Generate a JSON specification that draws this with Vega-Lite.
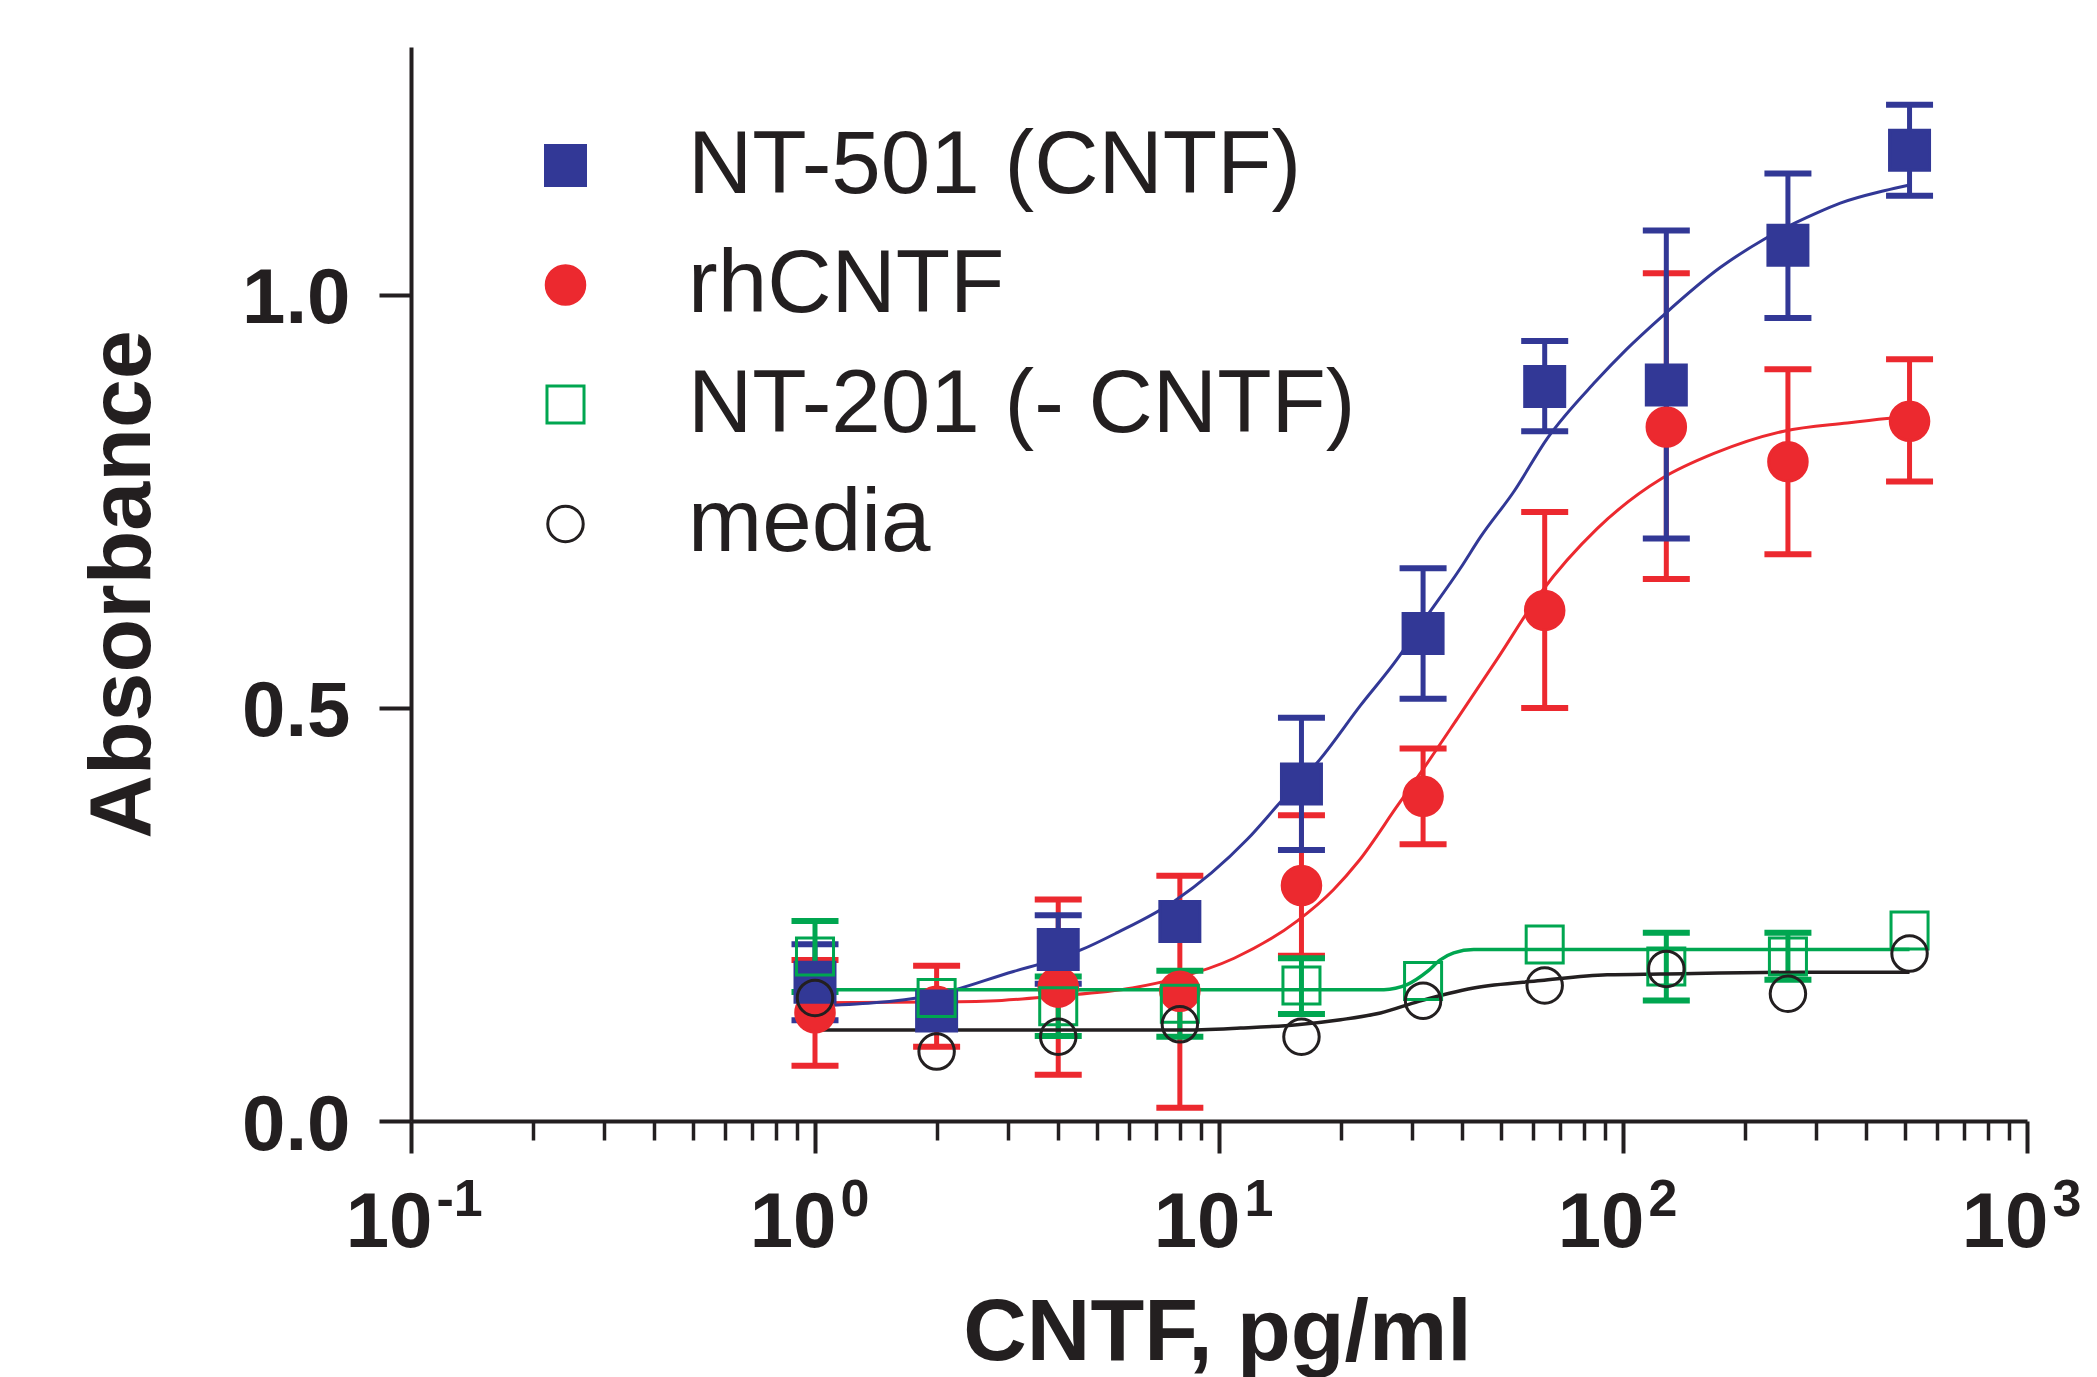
{
  "$schema": "https://vega.github.io/schema/vega-lite/v6.json",
  "width": 1616,
  "height": 1074,
  "autosize": {"type": "none"},
  "padding": {"left": 411, "top": 47, "right": 70, "bottom": 256},
  "background": "white",
  "datasets": {
    "pts": [
      {"series": "rhCNTF", "x": 1, "y": 0.131, "lo": 0.067, "hi": 0.195},
      {"series": "rhCNTF", "x": 2, "y": 0.139, "lo": 0.090, "hi": 0.188},
      {"series": "rhCNTF", "x": 4, "y": 0.162, "lo": 0.056, "hi": 0.268},
      {"series": "rhCNTF", "x": 8, "y": 0.157, "lo": 0.016, "hi": 0.297},
      {"series": "rhCNTF", "x": 16, "y": 0.285, "lo": 0.200, "hi": 0.370},
      {"series": "rhCNTF", "x": 32, "y": 0.393, "lo": 0.335, "hi": 0.451},
      {"series": "rhCNTF", "x": 64, "y": 0.618, "lo": 0.500, "hi": 0.737},
      {"series": "rhCNTF", "x": 128, "y": 0.840, "lo": 0.656, "hi": 1.026},
      {"series": "rhCNTF", "x": 256, "y": 0.798, "lo": 0.686, "hi": 0.910},
      {"series": "rhCNTF", "x": 512, "y": 0.847, "lo": 0.774, "hi": 0.922},
      {"series": "NT-501 (CNTF)", "x": 1, "y": 0.168, "lo": 0.122, "hi": 0.214},
      {"series": "NT-501 (CNTF)", "x": 2, "y": 0.133, "lo": null, "hi": null},
      {"series": "NT-501 (CNTF)", "x": 4, "y": 0.2075, "lo": 0.166, "hi": 0.249},
      {"series": "NT-501 (CNTF)", "x": 8, "y": 0.2415, "lo": null, "hi": null},
      {"series": "NT-501 (CNTF)", "x": 16, "y": 0.408, "lo": 0.328, "hi": 0.488},
      {"series": "NT-501 (CNTF)", "x": 32, "y": 0.590, "lo": 0.511, "hi": 0.669},
      {"series": "NT-501 (CNTF)", "x": 64, "y": 0.889, "lo": 0.835, "hi": 0.944},
      {"series": "NT-501 (CNTF)", "x": 128, "y": 0.891, "lo": 0.705, "hi": 1.078},
      {"series": "NT-501 (CNTF)", "x": 256, "y": 1.060, "lo": 0.972, "hi": 1.147},
      {"series": "NT-501 (CNTF)", "x": 512, "y": 1.175, "lo": 1.120, "hi": 1.230},
      {"series": "NT-201 (- CNTF)", "x": 1, "y": 0.199, "lo": 0.156, "hi": 0.242},
      {"series": "NT-201 (- CNTF)", "x": 2, "y": 0.149, "lo": null, "hi": null},
      {"series": "NT-201 (- CNTF)", "x": 4, "y": 0.139, "lo": 0.103, "hi": 0.175},
      {"series": "NT-201 (- CNTF)", "x": 8, "y": 0.142, "lo": 0.102, "hi": 0.182},
      {"series": "NT-201 (- CNTF)", "x": 16, "y": 0.164, "lo": 0.1295, "hi": 0.197},
      {"series": "NT-201 (- CNTF)", "x": 32, "y": 0.1695, "lo": null, "hi": null},
      {"series": "NT-201 (- CNTF)", "x": 64, "y": 0.2136, "lo": null, "hi": null},
      {"series": "NT-201 (- CNTF)", "x": 128, "y": 0.187, "lo": 0.146, "hi": 0.228},
      {"series": "NT-201 (- CNTF)", "x": 256, "y": 0.199, "lo": 0.171, "hi": 0.228},
      {"series": "NT-201 (- CNTF)", "x": 512, "y": 0.2306, "lo": null, "hi": null},
      {"series": "media", "x": 1, "y": 0.149, "lo": null, "hi": null},
      {"series": "media", "x": 2, "y": 0.084, "lo": null, "hi": null},
      {"series": "media", "x": 4, "y": 0.102, "lo": null, "hi": null},
      {"series": "media", "x": 8, "y": 0.117, "lo": null, "hi": null},
      {"series": "media", "x": 16, "y": 0.102, "lo": null, "hi": null},
      {"series": "media", "x": 32, "y": 0.1456, "lo": null, "hi": null},
      {"series": "media", "x": 64, "y": 0.164, "lo": null, "hi": null},
      {"series": "media", "x": 128, "y": 0.184, "lo": null, "hi": null},
      {"series": "media", "x": 256, "y": 0.154, "lo": null, "hi": null},
      {"series": "media", "x": 512, "y": 0.2027, "lo": null, "hi": null}
    ],
    "curves": [
      {"series": "NT-501 (CNTF)", "x": 1, "y": 0.139},
      {"series": "NT-501 (CNTF)", "x": 1.95, "y": 0.152},
      {"series": "NT-501 (CNTF)", "x": 3.1, "y": 0.181},
      {"series": "NT-501 (CNTF)", "x": 3.9, "y": 0.195},
      {"series": "NT-501 (CNTF)", "x": 4.55, "y": 0.207},
      {"series": "NT-501 (CNTF)", "x": 5.6, "y": 0.228},
      {"series": "NT-501 (CNTF)", "x": 7.75, "y": 0.266},
      {"series": "NT-501 (CNTF)", "x": 11.75, "y": 0.341},
      {"series": "NT-501 (CNTF)", "x": 14.2, "y": 0.386},
      {"series": "NT-501 (CNTF)", "x": 17.8, "y": 0.438},
      {"series": "NT-501 (CNTF)", "x": 22.4, "y": 0.503},
      {"series": "NT-501 (CNTF)", "x": 27.6, "y": 0.559},
      {"series": "NT-501 (CNTF)", "x": 31.5, "y": 0.600},
      {"series": "NT-501 (CNTF)", "x": 39.7, "y": 0.670},
      {"series": "NT-501 (CNTF)", "x": 44.4, "y": 0.707},
      {"series": "NT-501 (CNTF)", "x": 53.7, "y": 0.762},
      {"series": "NT-501 (CNTF)", "x": 64.9, "y": 0.826},
      {"series": "NT-501 (CNTF)", "x": 85.5, "y": 0.895},
      {"series": "NT-501 (CNTF)", "x": 102, "y": 0.934},
      {"series": "NT-501 (CNTF)", "x": 125, "y": 0.974},
      {"series": "NT-501 (CNTF)", "x": 174, "y": 1.033},
      {"series": "NT-501 (CNTF)", "x": 223, "y": 1.067},
      {"series": "NT-501 (CNTF)", "x": 303, "y": 1.0995},
      {"series": "NT-501 (CNTF)", "x": 345, "y": 1.111},
      {"series": "NT-501 (CNTF)", "x": 443, "y": 1.126},
      {"series": "NT-501 (CNTF)", "x": 512, "y": 1.133},
      {"series": "rhCNTF", "x": 1, "y": 0.143},
      {"series": "rhCNTF", "x": 1.95, "y": 0.144},
      {"series": "rhCNTF", "x": 2.9, "y": 0.146},
      {"series": "rhCNTF", "x": 3.9, "y": 0.151},
      {"series": "rhCNTF", "x": 6.1, "y": 0.161},
      {"series": "rhCNTF", "x": 7.75, "y": 0.172},
      {"series": "rhCNTF", "x": 10.9, "y": 0.197},
      {"series": "rhCNTF", "x": 15.6, "y": 0.242},
      {"series": "rhCNTF", "x": 19.2, "y": 0.280},
      {"series": "rhCNTF", "x": 22.2, "y": 0.315},
      {"series": "rhCNTF", "x": 27.6, "y": 0.381},
      {"series": "rhCNTF", "x": 31.2, "y": 0.418},
      {"series": "rhCNTF", "x": 38.9, "y": 0.487},
      {"series": "rhCNTF", "x": 48.8, "y": 0.559},
      {"series": "rhCNTF", "x": 62.7, "y": 0.640},
      {"series": "rhCNTF", "x": 86.3, "y": 0.717},
      {"series": "rhCNTF", "x": 125, "y": 0.778},
      {"series": "rhCNTF", "x": 168, "y": 0.808},
      {"series": "rhCNTF", "x": 250, "y": 0.835},
      {"series": "rhCNTF", "x": 359, "y": 0.845},
      {"series": "rhCNTF", "x": 468, "y": 0.851},
      {"series": "rhCNTF", "x": 512, "y": 0.852},
      {"series": "NT-201 (- CNTF)", "x": 1, "y": 0.159},
      {"series": "NT-201 (- CNTF)", "x": 10, "y": 0.159},
      {"series": "NT-201 (- CNTF)", "x": 25.6, "y": 0.159},
      {"series": "NT-201 (- CNTF)", "x": 29.2, "y": 0.165},
      {"series": "NT-201 (- CNTF)", "x": 32.8, "y": 0.181},
      {"series": "NT-201 (- CNTF)", "x": 35.3, "y": 0.195},
      {"series": "NT-201 (- CNTF)", "x": 38.1, "y": 0.2035},
      {"series": "NT-201 (- CNTF)", "x": 42.7, "y": 0.2075},
      {"series": "NT-201 (- CNTF)", "x": 100, "y": 0.2075},
      {"series": "NT-201 (- CNTF)", "x": 512, "y": 0.2075},
      {"series": "media", "x": 1, "y": 0.110},
      {"series": "media", "x": 8, "y": 0.110},
      {"series": "media", "x": 11.3, "y": 0.1125},
      {"series": "media", "x": 15.6, "y": 0.1165},
      {"series": "media", "x": 20, "y": 0.1226},
      {"series": "media", "x": 25.1, "y": 0.1307},
      {"series": "media", "x": 31.2, "y": 0.1448},
      {"series": "media", "x": 42.7, "y": 0.161},
      {"series": "media", "x": 62.7, "y": 0.170},
      {"series": "media", "x": 91.4, "y": 0.177},
      {"series": "media", "x": 124, "y": 0.178},
      {"series": "media", "x": 275, "y": 0.180},
      {"series": "media", "x": 512, "y": 0.180}
    ]
  },
  "layer": [
    {
      "layer": [
        {
          "data": {"name": "pts"},
          "transform": [{"filter": "datum.series == 'rhCNTF' && isValid(datum.lo)"}],
          "layer": [
            {"mark": {"type": "rule", "strokeWidth": 5, "color": "#EC292F"},
             "encoding": {
               "x": {"field": "x", "type": "quantitative", "scale": {"type": "log", "domain": [0.1, 1000]},
                 "axis": {"orient": "bottom", "values": [0.1, 1, 10, 100, 1000], "tickSize": 32, "tickWidth": 4, "domainWidth": 4,
                   "labelExpr": "'10'", "labelFont": "Liberation Sans", "labelFontWeight": "bold", "labelFontSize": 78,
                   "labelAlign": "right", "labelOffset": 21, "labelBaseline": "top", "labelPadding": 31,
                   "labelFlush": false, "labelOverlap": false, "labelBound": false, "grid": false,
                   "title": "CNTF, pg/ml", "titleFont": "Liberation Sans", "titleFontWeight": "bold", "titleFontSize": 88,
                   "titleX": 806, "titleY": 238, "titleBaseline": "alphabetic", "titleAlign": "center", "titleAnchor": null}},
               "y": {"field": "lo", "type": "quantitative", "scale": {"domain": [0, 1.3], "nice": false, "zero": false},
                 "axis": {"values": [0, 0.5, 1], "format": ".1f", "tickSize": 32, "tickWidth": 4, "domainWidth": 4,
                   "labelFont": "Liberation Sans", "labelFontWeight": "bold", "labelFontSize": 78, "labelPadding": 29, "labelOffset": 5,
                   "labelFlush": false, "labelOverlap": false, "grid": false,
                   "title": "Absorbance", "titleFont": "Liberation Sans", "titleFontWeight": "bold", "titleFontSize": 88,
                   "titleX": -262, "titleY": 537, "titleAngle": -90, "titleBaseline": "alphabetic", "titleAlign": "center", "titleAnchor": null}},
               "y2": {"field": "hi"}}},
            {"mark": {"type": "tick", "orient": "horizontal", "size": 47, "thickness": 6, "color": "#EC292F", "opacity": 1},
             "encoding": {"x": {"field": "x", "type": "quantitative", "scale": {"type": "log"}}, "y": {"field": "lo", "type": "quantitative"}}},
            {"mark": {"type": "tick", "orient": "horizontal", "size": 47, "thickness": 6, "color": "#EC292F", "opacity": 1},
             "encoding": {"x": {"field": "x", "type": "quantitative", "scale": {"type": "log"}}, "y": {"field": "hi", "type": "quantitative"}}}
          ]
        },
        {
          "data": {"name": "curves"},
          "transform": [{"filter": "datum.series == 'rhCNTF'"}],
          "mark": {"type": "line", "interpolate": "monotone", "strokeWidth": 3, "color": "#EC292F"},
          "encoding": {"x": {"field": "x", "type": "quantitative", "scale": {"type": "log"}}, "y": {"field": "y", "type": "quantitative"}}
        },
        {
          "data": {"name": "pts"},
          "transform": [{"filter": "datum.series == 'NT-501 (CNTF)' && isValid(datum.lo)"}],
          "layer": [
            {"mark": {"type": "rule", "strokeWidth": 5, "color": "#323896"},
             "encoding": {"x": {"field": "x", "type": "quantitative", "scale": {"type": "log"}}, "y": {"field": "lo", "type": "quantitative"}, "y2": {"field": "hi"}}},
            {"mark": {"type": "tick", "orient": "horizontal", "size": 47, "thickness": 6, "color": "#323896", "opacity": 1},
             "encoding": {"x": {"field": "x", "type": "quantitative", "scale": {"type": "log"}}, "y": {"field": "lo", "type": "quantitative"}}},
            {"mark": {"type": "tick", "orient": "horizontal", "size": 47, "thickness": 6, "color": "#323896", "opacity": 1},
             "encoding": {"x": {"field": "x", "type": "quantitative", "scale": {"type": "log"}}, "y": {"field": "hi", "type": "quantitative"}}}
          ]
        },
        {
          "data": {"name": "curves"},
          "transform": [{"filter": "datum.series == 'NT-501 (CNTF)'"}],
          "mark": {"type": "line", "interpolate": "monotone", "strokeWidth": 3, "color": "#323896"},
          "encoding": {"x": {"field": "x", "type": "quantitative", "scale": {"type": "log"}}, "y": {"field": "y", "type": "quantitative"}}
        },
        {
          "data": {"name": "pts"},
          "transform": [{"filter": "datum.series == 'NT-201 (- CNTF)' && isValid(datum.lo)"}],
          "layer": [
            {"mark": {"type": "rule", "strokeWidth": 5, "color": "#00A650"},
             "encoding": {"x": {"field": "x", "type": "quantitative", "scale": {"type": "log"}}, "y": {"field": "lo", "type": "quantitative"}, "y2": {"field": "hi"}}},
            {"mark": {"type": "tick", "orient": "horizontal", "size": 47, "thickness": 6, "color": "#00A650", "opacity": 1},
             "encoding": {"x": {"field": "x", "type": "quantitative", "scale": {"type": "log"}}, "y": {"field": "lo", "type": "quantitative"}}},
            {"mark": {"type": "tick", "orient": "horizontal", "size": 47, "thickness": 6, "color": "#00A650", "opacity": 1},
             "encoding": {"x": {"field": "x", "type": "quantitative", "scale": {"type": "log"}}, "y": {"field": "hi", "type": "quantitative"}}}
          ]
        },
        {
          "data": {"name": "curves"},
          "transform": [{"filter": "datum.series == 'NT-201 (- CNTF)'"}],
          "mark": {"type": "line", "interpolate": "monotone", "strokeWidth": 3.5, "color": "#00A650"},
          "encoding": {"x": {"field": "x", "type": "quantitative", "scale": {"type": "log"}}, "y": {"field": "y", "type": "quantitative"}}
        },
        {
          "data": {"name": "curves"},
          "transform": [{"filter": "datum.series == 'media'"}],
          "mark": {"type": "line", "interpolate": "monotone", "strokeWidth": 3.5, "color": "#231F20"},
          "encoding": {"x": {"field": "x", "type": "quantitative", "scale": {"type": "log"}}, "y": {"field": "y", "type": "quantitative"}}
        },
        {
          "data": {"name": "pts"},
          "mark": {"type": "point", "strokeWidth": 3, "opacity": 1},
          "encoding": {
            "x": {"field": "x", "type": "quantitative", "scale": {"type": "log"}},
            "y": {"field": "y", "type": "quantitative"},
            "fill": {"field": "series", "type": "nominal",
              "scale": {"domain": ["NT-501 (CNTF)", "rhCNTF", "NT-201 (- CNTF)", "media"], "range": ["#323896", "#EC292F", "transparent", "transparent"]},
              "legend": {"orient": "none", "legendX": 110, "legendY": 74, "title": null, "padding": 0, "labelFont": "Liberation Sans", "labelFontSize": 89, "labelColor": "#231F20", "labelOffset": 78, "labelLimit": 1200, "rowPadding": 29.5, "symbolStrokeWidth": 3}},
            "stroke": {"field": "series", "type": "nominal",
              "scale": {"domain": ["NT-501 (CNTF)", "rhCNTF", "NT-201 (- CNTF)", "media"], "range": ["#323896", "#EC292F", "#00A650", "#231F20"]},
              "legend": {"orient": "none", "legendX": 110, "legendY": 74, "title": null, "padding": 0, "labelFont": "Liberation Sans", "labelFontSize": 89, "labelColor": "#231F20", "labelOffset": 78, "labelLimit": 1200, "rowPadding": 29.5, "symbolStrokeWidth": 3}},
            "shape": {"field": "series", "type": "nominal",
              "scale": {"domain": ["NT-501 (CNTF)", "rhCNTF", "NT-201 (- CNTF)", "media"], "range": ["square", "circle", "square", "circle"]},
              "legend": {"orient": "none", "legendX": 110, "legendY": 74, "title": null, "padding": 0, "labelFont": "Liberation Sans", "labelFontSize": 89, "labelColor": "#231F20", "labelOffset": 78, "labelLimit": 1200, "rowPadding": 29.5, "symbolStrokeWidth": 3}},
            "size": {"field": "series", "type": "nominal",
              "scale": {"domain": ["NT-501 (CNTF)", "rhCNTF", "NT-201 (- CNTF)", "media"], "range": [1600, 1257, 1600, 1385]},
              "legend": {"orient": "none", "legendX": 110, "legendY": 74, "title": null, "padding": 0, "labelFont": "Liberation Sans", "labelFontSize": 89, "labelColor": "#231F20", "labelOffset": 78, "labelLimit": 1200, "rowPadding": 29.5, "symbolStrokeWidth": 3}}
          }
        }
      ]
    },
    {
      "data": {"values": [{"v": 0.2}, {"v": 0.3}, {"v": 0.4}, {"v": 0.5}, {"v": 0.6}, {"v": 0.7}, {"v": 0.8}, {"v": 0.9},
        {"v": 2}, {"v": 3}, {"v": 4}, {"v": 5}, {"v": 6}, {"v": 7}, {"v": 8}, {"v": 9},
        {"v": 20}, {"v": 30}, {"v": 40}, {"v": 50}, {"v": 60}, {"v": 70}, {"v": 80}, {"v": 90},
        {"v": 200}, {"v": 300}, {"v": 400}, {"v": 500}, {"v": 600}, {"v": 700}, {"v": 800}, {"v": 900}]},
      "mark": {"type": "rule", "opacity": 0},
      "encoding": {
        "x": {"field": "v", "type": "quantitative", "scale": {"type": "log"},
          "axis": {"orient": "bottom", "values": [0.2, 0.3, 0.4, 0.5, 0.6, 0.7, 0.8, 0.9, 2, 3, 4, 5, 6, 7, 8, 9, 20, 30, 40, 50, 60, 70, 80, 90, 200, 300, 400, 500, 600, 700, 800, 900],
            "tickSize": 19, "tickWidth": 3.5, "domain": false, "labels": false, "grid": false, "title": null}}
      }
    },
    {
      "data": {"values": [{"v": 0.1}, {"v": 1}, {"v": 10}, {"v": 100}, {"v": 1000}]},
      "mark": {"type": "rule", "opacity": 0},
      "encoding": {
        "x": {"field": "v", "type": "quantitative", "scale": {"type": "log"},
          "axis": {"orient": "bottom", "values": [0.1, 1, 10, 100, 1000], "ticks": false, "tickSize": 0, "domain": false, "grid": false, "title": null,
            "labelExpr": "datum.value < 0.5 ? '-1' : datum.value < 5 ? '0' : datum.value < 50 ? '1' : datum.value < 500 ? '2' : '3'",
            "labelFont": "Liberation Sans", "labelFontWeight": "bold", "labelFontSize": 52, "labelAlign": "left", "labelOffset": 25,
            "labelBaseline": "top", "labelPadding": 53, "labelFlush": false, "labelOverlap": false, "labelBound": false}}
      }
    }
  ],
  "resolve": {"axis": {"x": "independent"}},
  "config": {
    "view": {"stroke": null},
    "axis": {"domainColor": "#231F20", "tickColor": "#231F20", "labelColor": "#231F20", "titleColor": "#231F20", "grid": false}
  }
}
